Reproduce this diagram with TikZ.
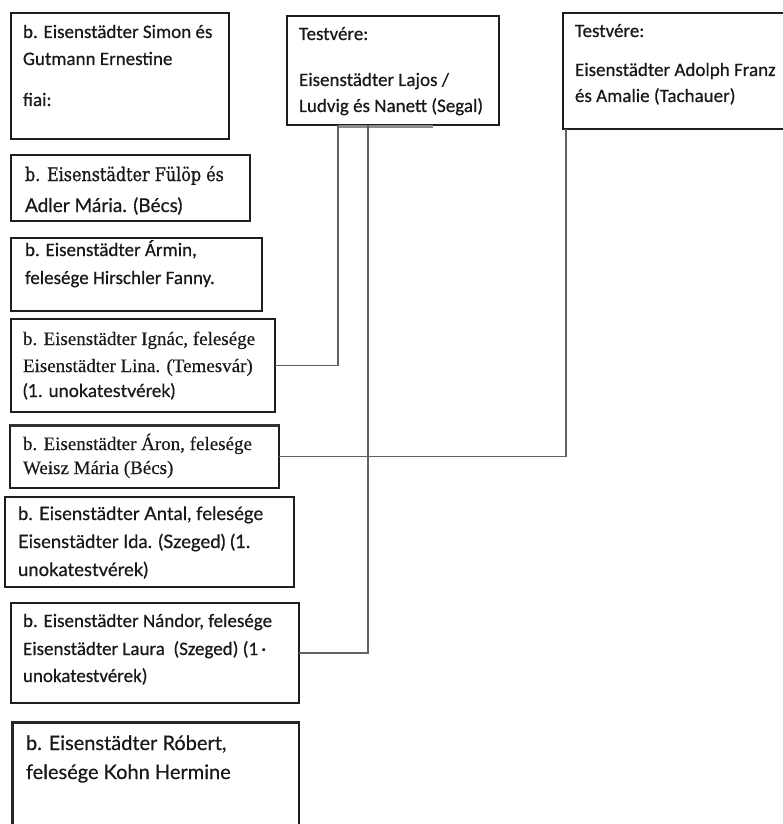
\documentclass[tikz,border=0pt]{standalone}
\usepackage{fontspec}
\setmainfont{Carlito}[FakeBold=0.5]
\newfontfamily\tms{Liberation Serif}[FakeBold=0.3]
\newfontfamily\apt{Lato}[FakeBold=0.5]
\newfontfamily\slab{DejaVu Serif}[FakeStretch=0.85,FakeBold=0.8]
\begin{document}
\begin{tikzpicture}[x=1pt,y=-1pt,
  box/.style={draw=black!88,line width=1.8pt,rectangle,inner sep=0pt,outer sep=0pt,anchor=north west,fill=white},
  ln/.style={anchor=base west,inner sep=0pt,outer sep=0pt,font=\fontsize{19}{23}\selectfont,text=black!90},
  conn/.style={draw=black!62,line width=1.4pt}]
\clip (0,0) rectangle (783,824);
\fill[white] (0,0) rectangle (783,824);
% boxes
\node[box,minimum width=218pt,minimum height=126pt] (b1) at (11,13) {};
\node[box,minimum width=212pt,minimum height=109pt] (lajos) at (287,16) {};
\node[box,minimum width=240pt,minimum height=116pt] (adolph) at (563,13) {};
\node[box,minimum width=239pt,minimum height=66pt] (fulop) at (11,155) {};
\node[box,minimum width=251pt,minimum height=73pt] (armin) at (11,238) {};
\node[box,line width=2.6pt,minimum width=264pt,minimum height=93pt] (ignac) at (11,319) {};
\node[box,minimum width=269pt,minimum height=63pt] (aron) at (10,425) {};
\node[box,minimum width=289pt,minimum height=90pt] (antal) at (5,497) {};
\node[box,minimum width=288pt,minimum height=100pt] (nandor) at (11,603) {};
\node[box,minimum width=287pt,minimum height=130pt] (robert) at (12,722) {};
% heavier edges
\draw[black!80,line width=3pt] (aron.north west) -- (aron.north east);
\draw[black!85,line width=3pt] (robert.south west) -- (robert.north west) -- (robert.north east);
% texts
\node[ln] (b1a) at (23,38) {b. Eisenstädter Simon és};
\node[ln] (b1b) at (23,65) {Gutmann Ernestine};
\node[ln] (b1c) at (23,106) {fiai:};
\node[ln] (la) at (299,40) {Testvére:};
\node[ln] (lb) at (299,86) {Eisenstädter Lajos /};
\node[ln] (lc) at (299,112) {Ludvig és Nanett (Segal)};
\node[ln] (aa) at (575,37) {Testvére:};
\node[ln] (ab) at (575,76) {Eisenstädter Adolph Franz};
\node[ln] (ac) at (575,102) {és Amalie (Tachauer)};
\node[ln,font=\slab\fontsize{18.8}{22}\selectfont] (fa) at (25,181) {b. Eisenstädter Fülöp és};
\node[ln,font=\apt\fontsize{19}{23}\selectfont] (fb) at (25,212) {Adler Mária. (Bécs)};
\node[ln] (ra) at (25,256) {b. Eisenstädter Ármin,};
\node[ln] (rb) at (25,284) {felesége Hirschler Fanny.};
\node[ln,font=\tms\fontsize{19}{23}\selectfont] (ia) at (23,345) {b. Eisenstädter Ignác, felesége};
\node[ln,font=\tms\fontsize{19}{23}\selectfont] (ib) at (23,372) {Eisenstädter Lina. (Temesvár)};
\node[ln,font=\apt\fontsize{18}{23}\selectfont] (ic) at (23,397) {(1. unokatestvérek)};
\node[ln,font=\tms\fontsize{19}{23}\selectfont] (oa) at (23,450) {b. Eisenstädter Áron, felesége};
\node[ln,font=\tms\fontsize{19}{23}\selectfont] (ob) at (23,474) {Weisz Mária (Bécs)};
\node[ln,font=\apt\fontsize{18.5}{23}\selectfont] (na) at (18,520) {b. Eisenstädter Antal, felesége};
\node[ln,font=\apt\fontsize{18.5}{23}\selectfont] (nb) at (18,548) {Eisenstädter Ida. (Szeged) (1.};
\node[ln,font=\apt\fontsize{18.5}{23}\selectfont] (nc) at (18,576) {unokatestvérek)};
\node[ln] (da) at (23,627) {b. Eisenstädter Nándor, felesége};
\node[ln] (db) at (23,655) {Eisenstädter Laura\ \ (Szeged) (1\,·};
\node[ln] (dc) at (23,682) {unokatestvérek)};
\node[ln,font=\apt\fontsize{20}{23}\selectfont] (ta) at (26,750) {b. Eisenstädter Róbert,};
\node[ln,font=\apt\fontsize{20}{23}\selectfont] (tb) at (26,779) {felesége Kohn Hermine};
% connectors
\draw[black!45,line width=3pt] ([xshift=50pt,yshift=-2pt]lajos.south west) -- ([xshift=146pt,yshift=-2pt]lajos.south west);
\draw[conn] ([xshift=51pt]lajos.south west) |- (ignac.east);
\draw[conn] ([xshift=81pt]lajos.south west) |- (nandor.east);
\draw[conn] ([xshift=3pt]adolph.south west) |- (aron.east);
\end{tikzpicture}
\end{document}
